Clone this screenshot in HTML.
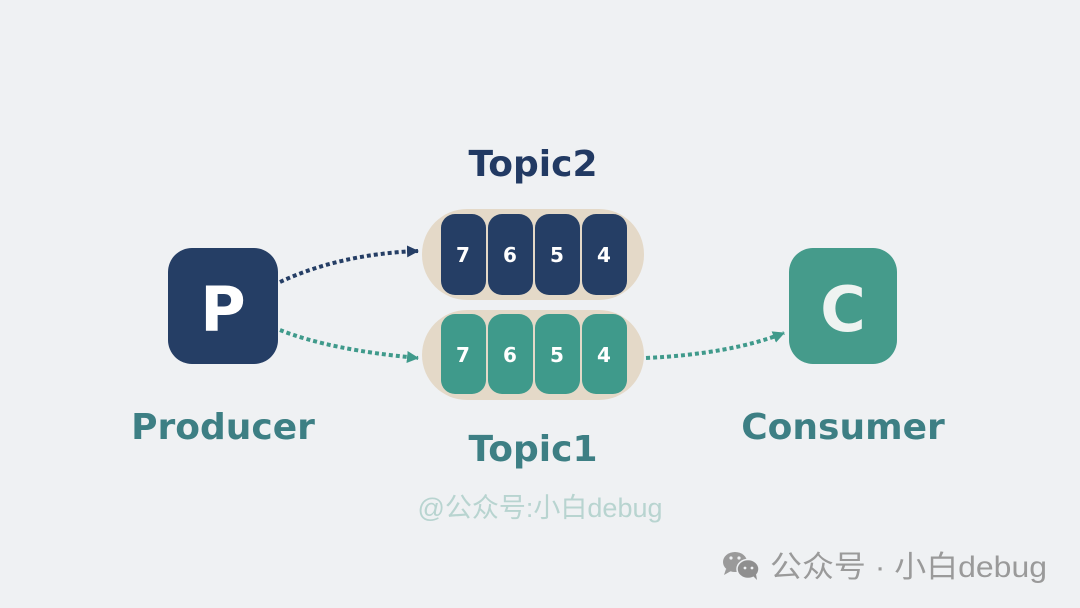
<!DOCTYPE html>
<html><head><meta charset="utf-8"><style>
html,body{margin:0;padding:0;background:#eff1f3;}
svg{display:block}
text{font-family:"DejaVu Sans","Liberation Sans","Noto Sans CJK SC",sans-serif;font-weight:bold}
</style></head><body>
<svg width="1080" height="608" viewBox="0 0 1080 608">
<defs>
<marker id="ad" markerWidth="14" markerHeight="14" refX="11" refY="6" orient="auto" markerUnits="userSpaceOnUse"><path d="M0,0 L12,6 L0,12 z" fill="#253e65"/></marker>
<marker id="at" markerWidth="14" markerHeight="14" refX="11" refY="6" orient="auto" markerUnits="userSpaceOnUse"><path d="M0,0 L12,6 L0,12 z" fill="#3f9a8b"/></marker>
</defs>
<rect width="1080" height="608" fill="#eff1f3"/>
<rect x="168" y="248" width="110" height="116" rx="24" fill="#253e65"/>
<text x="223" y="331" font-size="62" fill="#fff" text-anchor="middle">P</text>
<rect x="789" y="248" width="108" height="116" rx="24" fill="#459b8b"/>
<text x="843" y="331" font-size="62" fill="#eef3f1" text-anchor="middle">C</text>
<rect x="422" y="209" width="222" height="91" rx="45" fill="#e4d9c8"/>
<rect x="422" y="310" width="222" height="90" rx="45" fill="#e4d9c8"/>
<g fill="#253e65">
<rect x="441" y="214" width="45" height="81" rx="14"/><rect x="488" y="214" width="45" height="81" rx="14"/>
<rect x="535" y="214" width="45" height="81" rx="14"/><rect x="582" y="214" width="45" height="81" rx="14"/>
</g>
<g fill="#3f9a8b">
<rect x="441" y="314" width="45" height="80" rx="14"/><rect x="488" y="314" width="45" height="80" rx="14"/>
<rect x="535" y="314" width="45" height="80" rx="14"/><rect x="582" y="314" width="45" height="80" rx="14"/>
</g>
<g font-size="20" fill="#fff" text-anchor="middle">
<text x="463" y="262">7</text><text x="510" y="262">6</text><text x="557" y="262">5</text><text x="604" y="262">4</text>
<text x="463" y="362">7</text><text x="510" y="362">6</text><text x="557" y="362">5</text><text x="604" y="362">4</text>
</g>
<path d="M280,282 Q340,254 418,251" fill="none" stroke="#253e65" stroke-width="4" stroke-dasharray="4,3" marker-end="url(#ad)"/>
<path d="M280,330 Q330,350 418,358" fill="none" stroke="#3f9a8b" stroke-width="4" stroke-dasharray="4,3" marker-end="url(#at)"/>
<path d="M646,358 Q730,354 784,333" fill="none" stroke="#3f9a8b" stroke-width="4" stroke-dasharray="4,3" marker-end="url(#at)"/>
<text x="533" y="176" font-size="36" fill="#223a63" text-anchor="middle">Topic2</text>
<text x="533" y="461" font-size="36" fill="#3d7f84" text-anchor="middle">Topic1</text>
<text x="223" y="439" font-size="36" fill="#3d7f84" text-anchor="middle">Producer</text>
<text x="843" y="439" font-size="36" fill="#3d7f84" text-anchor="middle">Consumer</text>
<text x="540" y="517" font-size="27" fill="#b8d4d0" text-anchor="middle" style="font-weight:normal;font-family:'Liberation Sans','Noto Sans CJK SC',sans-serif">@公众号:小白debug</text>
<g fill="#9a9a9a">
<ellipse cx="735" cy="562" rx="12" ry="10"/>
<path d="M726,569 l-2,6 l7,-4z"/>
</g>
<g fill="#8f8f8f" stroke="#eff1f3" stroke-width="1.5">
<ellipse cx="748" cy="569" rx="11" ry="9.5"/>
</g>
<path d="M753,576 l4,4 l-1,-6z" fill="#8f8f8f"/>
<circle cx="731" cy="558" r="1.6" fill="#eff1f3"/><circle cx="739" cy="558" r="1.6" fill="#eff1f3"/>
<circle cx="745" cy="568" r="1.4" fill="#eff1f3"/><circle cx="752" cy="568" r="1.4" fill="#eff1f3"/>
<text x="770" y="577" font-size="30" fill="#9a9a9a" textLength="277" lengthAdjust="spacingAndGlyphs" style="font-weight:normal;font-family:'Liberation Sans','Noto Sans CJK SC',sans-serif">公众号 · 小白debug</text>
</svg>
</body></html>
